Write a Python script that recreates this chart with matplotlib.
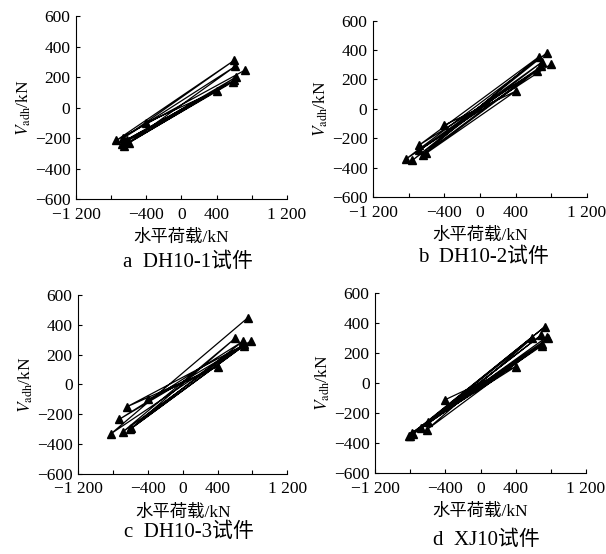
import matplotlib.pyplot as plt

plt.rcParams['font.family'] = ['Liberation Serif', 'Noto Sans CJK SC']
plt.rcParams['mathtext.fontset'] = 'stix'

# peak points of each loading cycle (negative / positive), kN
a_neg_x = [-400, -620, -650, -680, -600, -660, -740]
a_neg_y = [-100, -210, -250, -240, -230, -200, -215]
a_pos_x = [400, 600, 620, 590, 610, 600, 720]
a_pos_y = [110, 180, 200, 170, 270, 310, 245]

b_neg_x = [-400, -600, -680, -640, -680, -760, -830]
b_neg_y = [-110, -300, -245, -310, -280, -350, -340]
b_pos_x = [400, 640, 665, 690, 700, 750, 800]
b_pos_y = [120, 260, 355, 290, 320, 380, 305]

c_neg_x = [-400, -640, -730, -590, -600, -690, -820]
c_neg_y = [-100, -150, -235, -295, -300, -320, -330]
c_pos_x = [400, 780, 690, 700, 600, 700, 750]
c_pos_y = [120, 290, 290, 260, 310, 270, 450]

d_neg_x = [-400, -600, -610, -680, -770, -780, -800, -820]
d_neg_y = [-110, -260, -310, -300, -340, -330, -350, -355]
d_pos_x = [400, 590, 700, 690, 770, 700, 730, 760]
d_pos_y = [110, 300, 260, 320, 300, 250, 375, 310]

captions = ['a  DH10-1试件', 'b  DH10-2试件', 'c  DH10-3试件', 'd  XJ10试件']

xticks = [-1200, -800, -400, 0, 400, 800, 1200]
xticklabels = ['\u22121 200', '', '\u2212400', '0', '400', '', '1 200']
yticks = [-600, -400, -200, 0, 200, 400, 600]
yticklabels = ['\u2212600', '\u2212400', '\u2212200', '0', '200', '400', '600']


def zigzag(nx, ny, px, py):
    xs, ys = [], []
    for i in range(len(nx)):
        xs += [nx[i], px[i]]
        ys += [ny[i], py[i]]
    return xs, ys


fig = plt.figure(figsize=(6.06, 5.54), dpi=100)
boxes = [[0.1254, 0.6408, 0.348, 0.330],
         [0.6155, 0.6439, 0.353, 0.319],
         [0.129, 0.145, 0.345, 0.322],
         [0.619, 0.146, 0.348, 0.325]]
data = [(a_neg_x, a_neg_y, a_pos_x, a_pos_y),
        (b_neg_x, b_neg_y, b_pos_x, b_pos_y),
        (c_neg_x, c_neg_y, c_pos_x, c_pos_y),
        (d_neg_x, d_neg_y, d_pos_x, d_pos_y)]
cap_pos = [(0.31, 0.527), (0.797, 0.536), (0.312, 0.04), (0.802, 0.025)]

for box, d, cap, cp in zip(boxes, data, captions, cap_pos):
    ax = fig.add_axes(box)
    xs, ys = zigzag(*d)
    ax.plot(xs, ys, color='black', lw=0.9, marker='^', ms=5.5,
            markerfacecolor='black', markeredgecolor='black')
    ax.set_xlim(-1200, 1200)
    ax.set_ylim(-600, 600)
    ax.spines['top'].set_visible(False)
    ax.spines['right'].set_visible(False)
    ax.spines['left'].set_linewidth(0.8)
    ax.spines['bottom'].set_linewidth(0.8)
    ax.set_xticks(xticks)
    ax.set_xticklabels(xticklabels)
    ax.set_yticks(yticks)
    ax.set_yticklabels(yticklabels)
    ax.tick_params(direction='in', length=3, width=0.8, labelsize=12.5)
    ax.tick_params(axis='x', pad=5.5)
    ax.tick_params(axis='y', pad=4)
    ax.set_xlabel('水平荷载/kN', fontsize=12.5, labelpad=5)
    ax.set_ylabel(r'$V_{\rm adh}$/kN', fontsize=12.5, labelpad=1)
    fig.text(cp[0], cp[1], cap, fontsize=15, ha='center', va='center')

fig.savefig('out.png', dpi=100)
